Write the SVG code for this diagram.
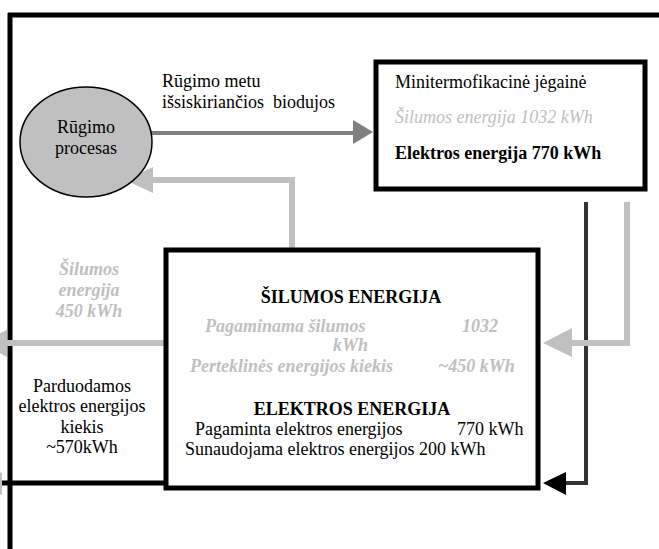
<svg xmlns="http://www.w3.org/2000/svg" width="659" height="549" viewBox="0 0 659 549">
<style>
text{font-family:"Liberation Serif","Times New Roman",serif;font-size:18px;fill:#000}
.g{fill:#c0c0c0}
.i{font-style:italic}
.b{font-weight:bold}
.box{fill:#fff;stroke:#000;stroke-width:5}
.frame{fill:none;stroke:#000;stroke-width:5}
.ga{fill:none;stroke:#c0c0c0;stroke-width:6}
.ah{fill:#c0c0c0}
</style>
<rect width="659" height="549" fill="#fff"/>
<g id="frame">
<path class="frame" d="M8 15H659M10 13V549M0 483H166"/>
</g>
<g id="connectors">
<path d="M145 133H355" stroke="#808080" stroke-width="4" fill="none"/>
<polygon points="373,132 353,120 353,144" fill="#808080"/>
<path class="ga" d="M292 248V180H150"/>
<polygon class="ah" points="125,180 153,167 153,193"/>
<path d="M586 202V483H564" stroke="#333" stroke-width="4" fill="none"/>
<polygon points="543,483 566,472 566,495" fill="#000"/>
<path class="ga" d="M627 202V343H570"/>
<polygon class="ah" points="543,343 572,328 572,357"/>
<path class="ga" d="M166 343H5"/>
<polygon class="ah" points="-20,343 7,330 7,357"/>
<polygon class="ah" points="-20,483 2,472 2,495"/>
</g>
<g id="rugimo">
<ellipse cx="86" cy="142" rx="66" ry="55" fill="#c0c0c0" stroke="#000" stroke-width="1.5"/>
<text x="86" y="133" text-anchor="middle">Rūgimo</text>
<text x="86" y="154" text-anchor="middle">procesas</text>
</g>
<g id="biodujos-label">
<text x="162" y="87">Rūgimo metu</text>
<text x="162" y="108" xml:space="preserve">išsiskiriančios  biodujos</text>
</g>
<g id="jegaine">
<rect class="box" x="376" y="62" width="269" height="127"/>
<text x="395" y="88">Minitermofikacinė jėgainė</text>
<text class="g i" x="395" y="123">Šilumos energija 1032 kWh</text>
<text class="b" x="395" y="159">Elektros energija 770 kWh</text>
</g>
<g id="silumos-label">
<text class="g i b" x="89" y="275" text-anchor="middle">Šilumos</text>
<text class="g i b" x="89" y="296" text-anchor="middle">energija</text>
<text class="g i b" x="89" y="317" text-anchor="middle">450 kWh</text>
</g>
<g id="parduodamos-label">
<text x="82" y="392" text-anchor="middle">Parduodamos</text>
<text x="82" y="412" text-anchor="middle">elektros energijos</text>
<text x="82" y="433" text-anchor="middle">kiekis</text>
<text x="82" y="453" text-anchor="middle">~570kWh</text>
</g>
<g id="energija-box">
<rect class="box" x="166" y="250" width="372" height="238"/>
<text class="b" x="351" y="303" text-anchor="middle">ŠILUMOS ENERGIJA</text>
<text class="g i b" x="205" y="332">Pagaminama šilumos</text>
<text class="g i b" x="462" y="332">1032</text>
<text class="g i b" x="333" y="351">kWh</text>
<text class="g i b" x="190" y="372">Perteklinės energijos kiekis</text>
<text class="g i b" x="438" y="372">~450 kWh</text>
<text class="b" x="352" y="415" text-anchor="middle">ELEKTROS ENERGIJA</text>
<text x="195" y="435">Pagaminta elektros energijos</text>
<text x="457" y="435">770 kWh</text>
<text x="185" y="455">Sunaudojama elektros energijos 200 kWh</text>
</g>
</svg>
